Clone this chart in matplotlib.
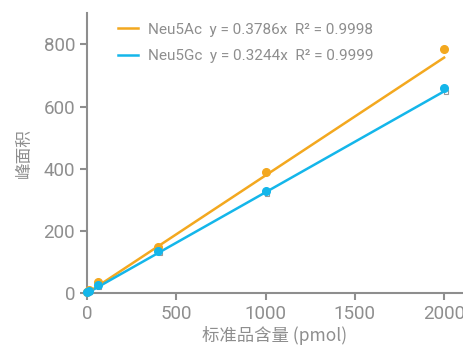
import numpy as np
import matplotlib.pyplot as plt

plt.rcParams['font.family'] = ['Roboto', 'Noto Sans CJK SC', 'DejaVu Sans']

# 标准品含量 (pmol) 与峰面积
x_std = [0, 10, 60, 400, 1000, 2000]
neu5ac = [5, 10, 36, 149, 390, 784]
neu5gc = [3, 6, 26, 136, 328, 661]
gray_marks = [1, 3, 20, 128, 318, 648]
slopes = [0.3786, 0.3244]

labels = ['Neu5Ac  y = 0.3786x  R\u00b2 = 0.9998',
          'Neu5Gc  y = 0.3244x  R\u00b2 = 0.9999']
colors = ['#f3a81f', '#14b6ea']
grey = '#8e8e8e'

fig = plt.figure(figsize=(4.64, 3.47), dpi=100)
ax = fig.add_axes([0.1875, 0.155, 0.81, 0.807])

x = np.array(x_std, dtype=float)
xs = np.array([0, 2000])

# grey small markers (error caps in the original)
ax.plot(x + 8, gray_marks, 's', ms=3, mfc='none', mec='#9a9a9a', mew=0.8,
        ls='none', clip_on=False, zorder=2)

for ys, k, c, lab in zip([neu5ac, neu5gc], slopes, colors, labels):
    ax.plot(xs, k * xs, color=c, lw=1.8, label=lab, zorder=3, clip_on=False)
    ax.plot(x, ys, 'o', color=c, ms=5.5, zorder=4, clip_on=False)

ax.set_xlim(0, 2105)
ax.set_ylim(0, 900)
ax.set_xticks([0, 500, 1000, 1500, 2000])
ax.set_yticks([0, 200, 400, 600, 800])

for s in ['top', 'right']:
    ax.spines[s].set_visible(False)
for s in ['left', 'bottom']:
    ax.spines[s].set_color(grey)
    ax.spines[s].set_linewidth(1.5)
ax.tick_params(colors=grey, labelcolor=grey, labelsize=13.5, width=1.5, length=5)

ax.set_xlabel('标准品含量 (pmol)', color=grey, fontsize=12.5,
              family=['Noto Sans CJK SC', 'Roboto'], labelpad=2)
ax.set_ylabel('峰面积', color=grey, fontsize=12,
              family=['Noto Sans CJK SC'], labelpad=8)

leg = ax.legend(loc='upper left', bbox_to_anchor=(0.045, 1.015), frameon=False,
                handlelength=1.3, handletextpad=0.7, labelspacing=0.8,
                prop={'size': 11})
for t in leg.get_texts():
    t.set_color(grey)

fig.savefig('out.png', dpi=100)
